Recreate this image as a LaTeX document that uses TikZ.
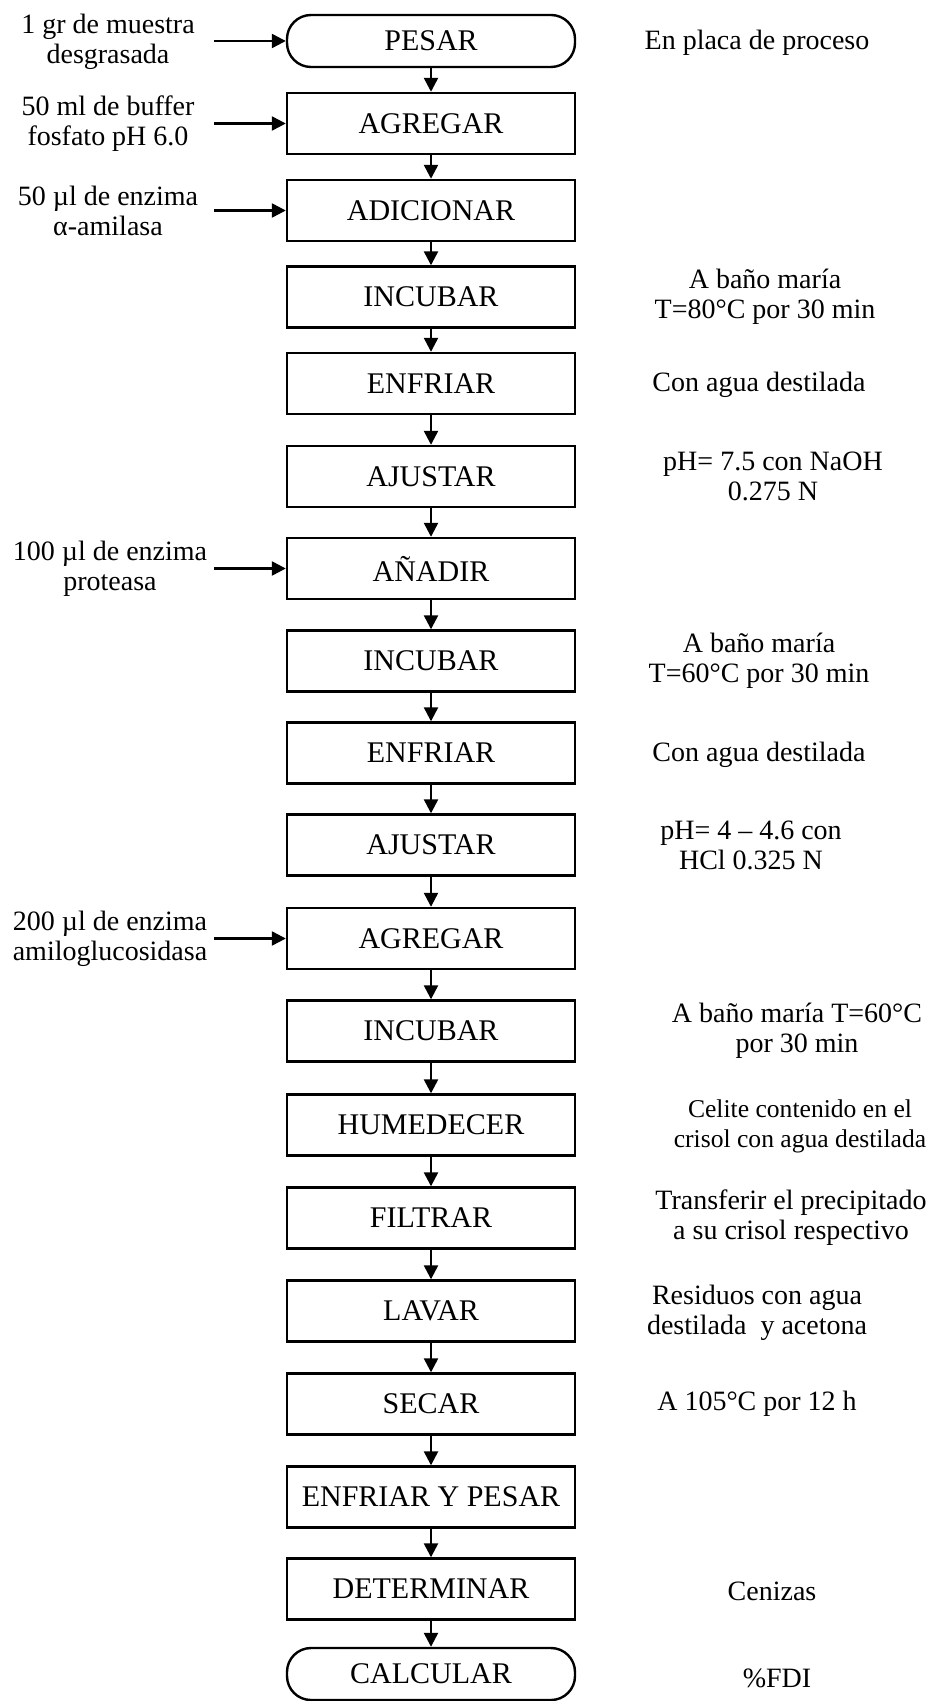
\documentclass[tikz,border=0pt]{standalone}
\usepackage{fontspec}
\setmainfont{Liberation Serif}
\usetikzlibrary{arrows.meta}

\begin{document}
\begin{tikzpicture}[x=0.5pt,y=-0.5pt,
  paso/.style={draw,line width=1.2pt,minimum width=144pt,minimum height=30.5pt,inner sep=2pt,font=\fontsize{15}{16}\selectfont},
  terminal/.style={paso,rounded corners=12pt,minimum height=26pt},
  nota/.style={align=center,font=\fontsize{14}{15}\selectfont},
  flecha/.style={-{Triangle[length=7pt,width=7pt]},line width=1.2pt}]
  \useasboundingbox (0,0) rectangle (932,1701);

  % pasos del proceso
  \node[terminal] (pesar) at (431,41) {PESAR};
  \node[paso] (agregarA) at (431,123.5) {AGREGAR};
  \node[paso] (adicionar) at (431,210.5) {ADICIONAR};
  \node[paso] (incubarA) at (431,297) {INCUBAR};
  \node[paso] (enfriarA) at (431,383.5) {ENFRIAR};
  \node[paso] (ajustarA) at (431,476.5) {AJUSTAR};
  \node[paso] (anadir) at (431,568.5) {AÑADIR};
  \node[paso] (incubarB) at (431,661) {INCUBAR};
  \node[paso] (enfriarB) at (431,753) {ENFRIAR};
  \node[paso] (ajustarB) at (431,845) {AJUSTAR};
  \node[paso] (agregarB) at (431,938.5) {AGREGAR};
  \node[paso] (incubarC) at (431,1031) {INCUBAR};
  \node[paso] (humedecer) at (431,1125) {HUMEDECER};
  \node[paso] (filtrar) at (431,1218) {FILTRAR};
  \node[paso] (lavar) at (431,1311) {LAVAR};
  \node[paso] (secar) at (431,1404) {SECAR};
  \node[paso] (enfriarpesar) at (431,1497) {ENFRIAR Y PESAR};
  \node[paso] (determinar) at (431,1589) {DETERMINAR};
  \node[terminal] (calcular) at (431,1674) {CALCULAR};

  % flechas entre pasos
  \draw[flecha] (pesar) -- (agregarA);
  \draw[flecha] (agregarA) -- (adicionar);
  \draw[flecha] (adicionar) -- (incubarA);
  \draw[flecha] (incubarA) -- (enfriarA);
  \draw[flecha] (enfriarA) -- (ajustarA);
  \draw[flecha] (ajustarA) -- (anadir);
  \draw[flecha] (anadir) -- (incubarB);
  \draw[flecha] (incubarB) -- (enfriarB);
  \draw[flecha] (enfriarB) -- (ajustarB);
  \draw[flecha] (ajustarB) -- (agregarB);
  \draw[flecha] (agregarB) -- (incubarC);
  \draw[flecha] (incubarC) -- (humedecer);
  \draw[flecha] (humedecer) -- (filtrar);
  \draw[flecha] (filtrar) -- (lavar);
  \draw[flecha] (lavar) -- (secar);
  \draw[flecha] (secar) -- (enfriarpesar);
  \draw[flecha] (enfriarpesar) -- (determinar);
  \draw[flecha] (determinar) -- (calcular);

  % entradas (izquierda)
  \node[nota] (muestra) at (108,42) {1 gr de muestra\\desgrasada};
  \coordinate (eMuestra) at (214,41);
  \draw[flecha] (eMuestra) -- (pesar);
  \node[nota] (buffer) at (108,124) {50 ml de buffer\\fosfato pH 6.0};
  \coordinate (eBuffer) at (214,123.5);
  \draw[flecha] (eBuffer) -- (agregarA);
  \node[nota] (amilasa) at (108,211) {50 µl de enzima\\α-amilasa};
  \coordinate (eAmilasa) at (214,210.5);
  \draw[flecha] (eAmilasa) -- (adicionar);
  \node[nota] (proteasa) at (110,569) {100 µl de enzima\\proteasa};
  \coordinate (eProteasa) at (214,568.5);
  \draw[flecha] (eProteasa) -- (anadir);
  \node[nota] (amilo) at (110,939) {200 µl de enzima\\amiloglucosidasa};
  \coordinate (eAmilo) at (214,938.5);
  \draw[flecha] (eAmilo) -- (agregarB);

  % condiciones (derecha)
  \node[nota] (placa) at (757,43) {En placa de proceso};
  \node[nota] (bano80) at (765,297) {A baño maría\\T=80°C por 30 min};
  \node[nota] (aguaA) at (759,385) {Con agua destilada};
  \node[nota] (naoh) at (773,476) {pH= 7.5 con NaOH\\0.275 N};
  \node[nota] (bano60) at (759,661) {A baño maría\\T=60°C por 30 min};
  \node[nota] (aguaB) at (759,755) {Con agua destilada};
  \node[nota] (hcl) at (751,845) {pH= 4 – 4.6 con\\HCl 0.325 N};
  \node[nota] (banoC) at (797,1031) {A baño maría T=60°C\\por 30 min};
  \node[nota,font=\fontsize{12.8}{15}\selectfont] (celite) at (800,1126) {Celite contenido en el\\crisol con agua destilada};
  \node[nota] (transferir) at (791,1218) {Transferir el precipitado\\a su crisol respectivo};
  \node[nota] (residuos) at (757,1313) {Residuos con agua\\destilada\ \ y acetona};
  \node[nota] (horno) at (757,1404) {A 105°C por 12 h};
  \node[nota] (cenizas) at (772,1591) {Cenizas};
  \node[nota] (fdi) at (777,1678) {\%FDI};
\end{tikzpicture}
\end{document}
